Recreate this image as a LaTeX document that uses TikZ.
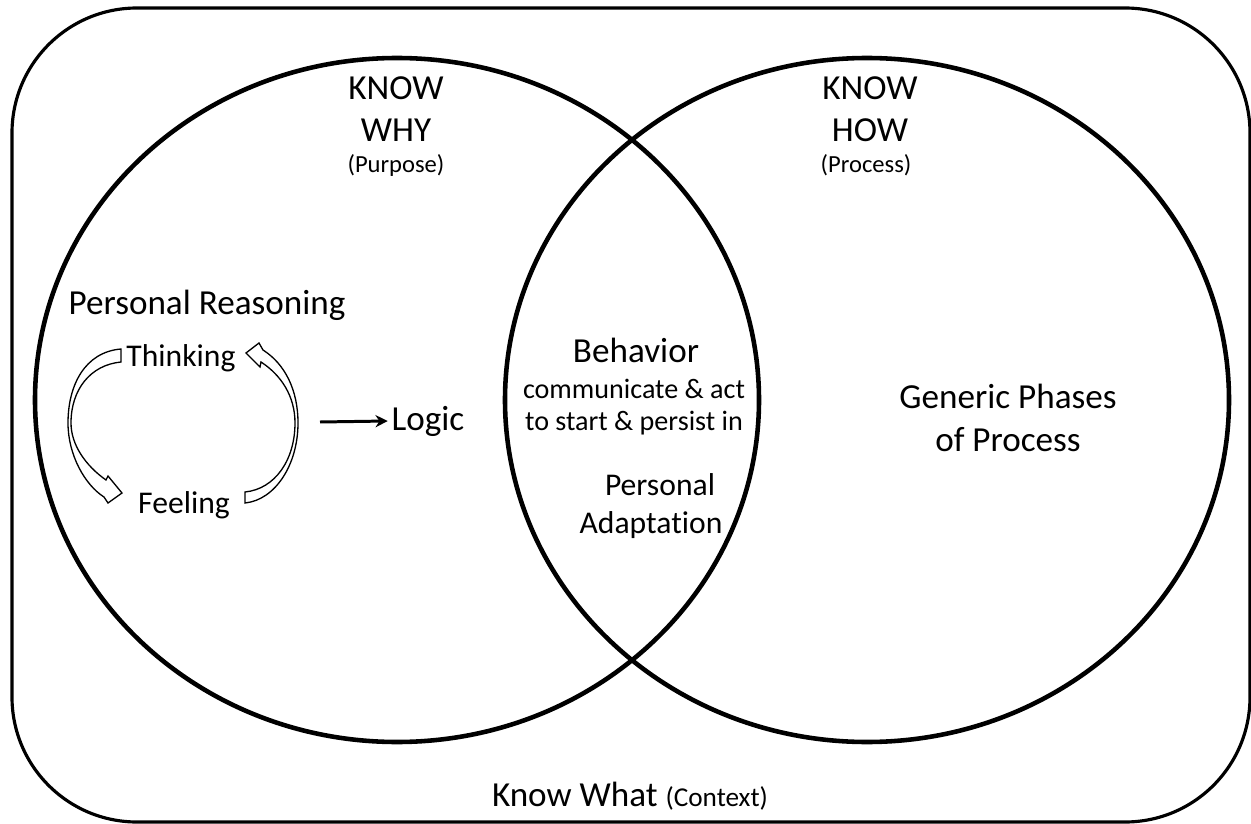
\documentclass[tikz,border=0pt]{standalone}
\usepackage{fontspec}
\setmainfont[Ligatures=NoCommon]{Carlito}
\usetikzlibrary{arrows.meta,positioning}

\tikzset{
  ring/.style={line width=2.6pt},
  frame/.style={line width=1.8pt, rounded corners=2.5cm},
  lbl/.style={inner sep=2pt, align=center, font=\fontsize{20}{24}\selectfont},
  paren/.style={inner sep=2pt, font=\fontsize{14}{17}\selectfont},
  mid/.style={inner sep=2pt, align=center, font=\fontsize{18}{22.7}\selectfont},
  blockarrow/.style={draw=black, fill=white, line width=0.75pt, line join=miter},
  logicarrow/.style={line width=1.7pt, -{Stealth[length=7pt,width=7pt]}}
}

\begin{document}
\begin{tikzpicture}[x=0.02cm,y=-0.02cm]
\useasboundingbox (0,0) rectangle (1251,824);

% outer frame = context
\draw[frame] (12,8) rectangle (1250,822);

% the two circles
\draw[ring] (397,400) ellipse [x radius=362, y radius=342]; % why
\draw[ring] (867,400) ellipse [x radius=362, y radius=342]; % how

% left circle
\node[lbl] (knowwhy) at (396,109) {KNOW\\WHY};
\node[paren] (purpose) at (396,165) {(Purpose)};
\node[lbl] (reasoning) at (207,305) {Personal Reasoning};
\node[mid] (thinking) at (181,358) {Thinking};
\node[mid] (feeling) at (184,505) {Feeling};
\node[lbl] (logic) at (428,421) {Logic};
\coordinate (logictail) at (320,422);
\draw[logicarrow] (logictail) -- (logic.west);

% thinking -> feeling
\draw[blockarrow] (121,349) .. controls (85,352) and (68,385) .. (68,423)
  .. controls (68,455) and (85,485) .. (104,497) -- (108,503) -- (122,493)
  -- (108,476) -- (106,480) .. controls (86,466) and (71,445) .. (71,423)
  .. controls (71,390) and (90,365) .. (121,362) -- cycle;
% feeling -> thinking
\draw[blockarrow] (245,503) .. controls (275,500) and (298,465) .. (298,423)
  .. controls (298,390) and (285,364) .. (263,350) -- (259,343) -- (246,353)
  -- (260,367) -- (261,362) .. controls (281,375) and (295,396) .. (295,423)
  .. controls (295,460) and (275,489) .. (245,492) -- cycle;

% overlap
\node[lbl] (behavior) at (636,350) {Behavior};
\node[inner sep=2pt, align=center, font=\fontsize{16}{18}\selectfont] (acts) at (634,407)
  {communicate \& act\\to start \& persist in};
\node[mid] (personal) at (660,485) {Personal};
\node[mid] (adapt) at (651,525) {Adaptation};

% right circle
\node[lbl] (knowhow) at (870,109) {KNOW\\HOW};
\node[paren] (process) at (866,165) {(Process)};
\node[lbl, font=\fontsize{20}{24.4}\selectfont] (phases) at (1008,418) {Generic Phases\\of Process};

% bottom
\node[lbl] (knowwhat) at (630,796) {Know What {\fontsize{15.5}{18}\selectfont(Context)}};
\end{tikzpicture}
\end{document}
